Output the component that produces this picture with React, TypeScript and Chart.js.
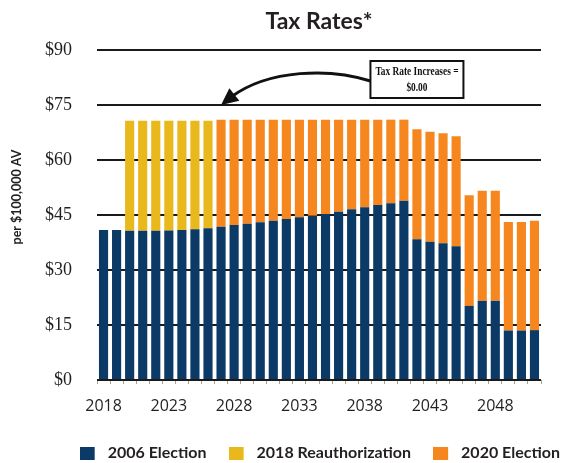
import React, { useEffect, useRef } from "react";
import { Chart, registerables } from "chart.js";

Chart.register(...registerables);

const years = [
  "2018", "2019", "2020", "2021", "2022", "2023", "2024", "2025", "2026", "2027",
  "2028", "2029", "2030", "2031", "2032", "2033", "2034", "2035", "2036", "2037",
  "2038", "2039", "2040", "2041", "2042", "2043", "2044", "2045", "2046", "2047",
  "2048", "2049", "2050", "2051",
];

const tickYears = ["2018", "2023", "2028", "2033", "2038", "2043", "2048"];

const election2006 = [
  40.9, 40.9, 40.7, 40.7, 40.7, 40.8, 40.9, 41.1, 41.4, 41.8,
  42.3, 42.6, 43.0, 43.4, 43.9, 44.4, 44.8, 45.3, 45.9, 46.6,
  47.1, 47.7, 48.2, 48.9, 38.4, 37.7, 37.3, 36.5, 20.2, 21.6,
  21.6, 13.5, 13.5, 13.6,
];

const reauth2018 = [
  null, null, 30.0, 30.0, 30.0, 29.9, 29.8, 29.6, 29.3, null,
  null, null, null, null, null, null, null, null, null, null,
  null, null, null, null, null, null, null, null, null, null,
  null, null, null, null,
];

const election2020 = [
  null, null, null, null, null, null, null, null, null, 29.2,
  28.7, 28.4, 28.0, 27.6, 27.1, 26.6, 26.2, 25.7, 25.1, 24.4,
  23.9, 23.3, 22.8, 22.1, 30.0, 30.0, 30.0, 30.0, 30.2, 30.0,
  30.0, 29.6, 29.6, 29.8,
];

const seriesNames = ["2006 Election", "2018 Reauthorization", "2020 Election"];
const seriesColors = ["#0b3a66", "#e9b81c", "#f6871f"];

const chartTitle = "Tax Rates*";
const yAxisTitle = "per $100,000 AV";
const annotationLines = ["Tax Rate Increases =", "$0.00"];
const arrowTargetYear = "2027";
const arrowTargetValue = 75;
const boxCenterYear = "2042";
const boxTopValue = 87;

const TEXT = "#231f20";

function makeLegendIcon(color: string) {
  const c = document.createElement("canvas");
  c.width = 20;
  c.height = 13;
  const g = c.getContext("2d")!;
  g.fillStyle = color;
  g.fillRect(0, 0, 15, 13);
  return c;
}

const overlayPlugin = {
  id: "overlay",
  afterDraw(chart: any) {
    const { ctx, chartArea, scales } = chart;
    const x = scales.x;
    const y = scales.y;

    // y-axis title
    ctx.save();
    ctx.translate(17, (chartArea.top + chartArea.bottom) / 2 - 18);
    ctx.rotate(-Math.PI / 2);
    ctx.fillStyle = TEXT;
    ctx.font = "bold 12.5px Lato, sans-serif";
    ctx.textAlign = "center";
    ctx.textBaseline = "middle";
    ctx.fillText(yAxisTitle, 0, 0);
    ctx.restore();

    // annotation box
    const bx = x.getPixelForValue(years.indexOf(boxCenterYear));
    const bw = 93;
    const bh = 37;
    const left = bx - bw / 2;
    const top = y.getPixelForValue(boxTopValue);
    ctx.save();
    ctx.fillStyle = "#ffffff";
    ctx.fillRect(left, top, bw, bh);
    ctx.lineWidth = 2;
    ctx.strokeStyle = "#111111";
    ctx.strokeRect(left, top, bw, bh);
    ctx.fillStyle = "#111111";
    ctx.font = "bold 13px 'Liberation Serif', serif";
    ctx.textAlign = "center";
    ctx.textBaseline = "middle";
    annotationLines.forEach((line, i) => {
      ctx.save();
      ctx.translate(bx, top + 11 + i * 16);
      ctx.scale(0.72, 1);
      ctx.fillText(line, 0, 0);
      ctx.restore();
    });

    // arrow
    const tx = x.getPixelForValue(years.indexOf(arrowTargetYear));
    const ty = y.getPixelForValue(arrowTargetValue);
    const sx = left;
    const sy = top + 20;
    const ex = tx + 10;
    const ey = ty - 8;
    ctx.beginPath();
    ctx.moveTo(sx, sy);
    ctx.bezierCurveTo(sx - 40, sy - 13, tx + 48, sy - 12, ex, ey);
    ctx.lineWidth = 3;
    ctx.strokeStyle = "#111111";
    ctx.stroke();
    const dx = tx - ex;
    const dy = ty - ey;
    const len = Math.hypot(dx, dy);
    const ux = dx / len;
    const uy = dy / len;
    const hl = 17;
    const hw = 8;
    const baseX = tx - ux * hl;
    const baseY = ty - uy * hl;
    ctx.beginPath();
    ctx.moveTo(tx, ty);
    ctx.lineTo(baseX - uy * hw, baseY + ux * hw);
    ctx.lineTo(baseX + uy * hw, baseY - ux * hw);
    ctx.closePath();
    ctx.fillStyle = "#111111";
    ctx.fill();
    ctx.restore();
  },
};

export default function App() {
  const canvasRef = useRef<HTMLCanvasElement | null>(null);

  useEffect(() => {
    const canvas = canvasRef.current;
    if (!canvas) return;
    const icons = seriesColors.map(makeLegendIcon);
    const datasets = [election2006, reauth2018, election2020].map((data, i) => ({
      label: seriesNames[i],
      data,
      backgroundColor: seriesColors[i],
      borderWidth: 0,
      barPercentage: 0.7,
      categoryPercentage: 1.0,
    }));
    const chart = new Chart(canvas, {
      type: "bar",
      data: { labels: years, datasets },
      plugins: [overlayPlugin],
      options: {
        responsive: false,
        animation: false,
        events: [],
        layout: { padding: { left: 0, top: 0, bottom: 0, right: -21 } },
        plugins: {
          title: {
            display: true,
            text: chartTitle,
            fullSize: false,
            color: TEXT,
            font: { family: "Lato, sans-serif", size: 23, weight: "bold" },
            padding: { top: 8, bottom: 14.4 },
          },
          legend: {
            position: "bottom",
            align: "end",
            maxHeight: 40,
            labels: {
              usePointStyle: true,
              pointStyleWidth: 20,
              boxWidth: 20,
              boxHeight: 13,
              padding: 22,
              color: TEXT,
              font: { family: "Lato, sans-serif", size: 16, weight: "bold" },
              generateLabels: (ch: any) => {
                const items = Chart.defaults.plugins.legend.labels.generateLabels(ch);
                return items.map((it: any, i: number) => ({ ...it, pointStyle: icons[i] }));
              },
            },
          },
          tooltip: { enabled: false },
        },
        scales: {
          x: {
            stacked: true,
            grid: {
              display: true,
              drawOnChartArea: false,
              drawTicks: true,
              tickLength: 4,
              color: "#a8a48a",
            },
            border: { display: false },
            ticks: {
              autoSkip: false,
              maxRotation: 0,
              minRotation: 0,
              padding: 13,
              color: TEXT,
              font: { family: "'Open Sans', sans-serif", size: 16 },
              callback: (_v: any, i: number) => (tickYears.includes(years[i]) ? years[i] : ""),
            },
            afterFit: (s: any) => {
              s.height = 43;
            },
          },
          y: {
            stacked: true,
            min: 0,
            max: 90,
            grid: { color: "#1a1a1a", lineWidth: 2, drawTicks: false },
            border: { display: false },
            ticks: {
              stepSize: 15,
              padding: 25,
              color: TEXT,
              font: { family: "'Liberation Serif', serif", size: 18 },
              callback: (v: any) => "$" + v,
            },
            afterFit: (s: any) => {
              s.width = 97;
            },
          },
          yR: {
            position: "right",
            display: true,
            grid: { display: false },
            border: { display: false },
            ticks: { display: false },
            afterFit: (s: any) => {
              s.width = 41;
            },
          },
        },
      },
    } as any);
    return () => chart.destroy();
  }, []);

  return (
    <div style={{ position: "absolute", left: 0, top: 0, width: 561, height: 463, background: "#fff" }}>
      <canvas ref={canvasRef} width={561} height={463} style={{ display: "block" }} />
    </div>
  );
}
